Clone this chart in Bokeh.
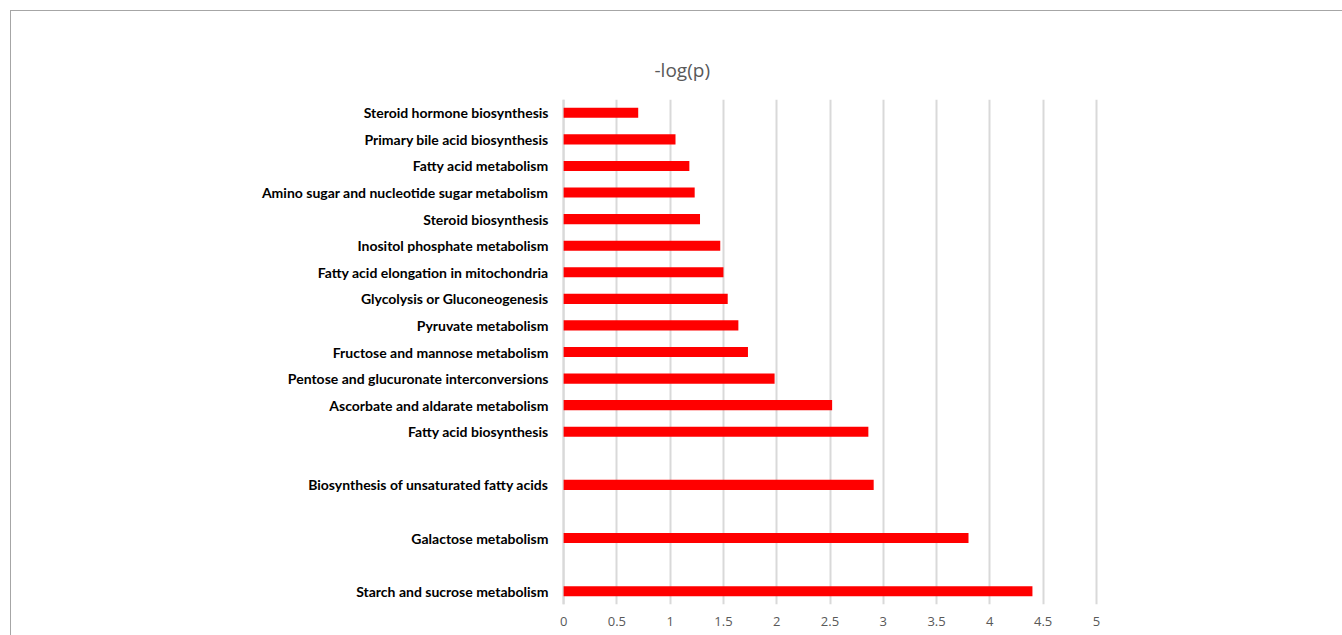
from bokeh.plotting import figure
from bokeh.models import FixedTicker, Range1d, Title, ColumnDataSource, Span
from bokeh.embed import file_html
from bokeh.resources import INLINE

# Categories bottom-to-top; empty strings are blank rows in the source table
categories = [
    "Starch and sucrose metabolism",
    "",
    "Galactose metabolism",
    "",
    "Biosynthesis of unsaturated fatty acids",
    "",
    "Fatty acid biosynthesis",
    "Ascorbate and aldarate metabolism",
    "Pentose and glucuronate interconversions",
    "Fructose and mannose metabolism",
    "Pyruvate metabolism",
    "Glycolysis or Gluconeogenesis",
    "Fatty acid elongation in mitochondria",
    "Inositol phosphate metabolism",
    "Steroid biosynthesis",
    "Amino sugar and nucleotide sugar metabolism",
    "Fatty acid metabolism",
    "Primary bile acid biosynthesis",
    "Steroid hormone biosynthesis",
]
neg_log_p = [4.40, None, 3.80, None, 2.91, None, 2.86, 2.52, 1.98, 1.73, 1.64,
             1.54, 1.50, 1.47, 1.28, 1.23, 1.18, 1.05, 0.70]
x_ticks = [0, 0.5, 1, 1.5, 2, 2.5, 3, 3.5, 4, 4.5, 5]

ys = [i for i, v in enumerate(neg_log_p) if v is not None]
vals = [v for v in neg_log_p if v is not None]
src = ColumnDataSource(dict(y=ys, right=vals))

p = figure(width=1332, height=625, output_backend="svg", toolbar_location=None,
           x_range=Range1d(-0.02, 5.02), y_range=Range1d(-0.5, len(categories) - 0.5),
           min_border_left=550, min_border_right=245, min_border_top=88,
           min_border_bottom=32, margin=(10, 0, 0, 10))
p.styles = {"border-top": "1px solid #a6a6a6", "border-left": "1px solid #a6a6a6"}
p.outline_line_color = None

p.add_layout(Span(location=x_ticks[0], dimension="height", line_color="#d9d9d9",
                  line_width=2, level="underlay"))

p.hbar(y="y", left=0, right="right", height=0.38, source=src,
       fill_color="#ff0000", line_color=None)

p.add_layout(Title(text="-log(p)", text_font="Open Sans", text_font_size="19px",
                   text_font_style="normal", text_color="#595959",
                   align="left", offset=93, standoff=34), "above")

p.xaxis.ticker = FixedTicker(ticks=x_ticks)
p.xaxis.major_label_overrides = {t: (str(int(t)) if float(t).is_integer() else str(t)) for t in x_ticks}
p.xaxis.axis_line_color = None
p.xaxis.major_tick_line_color = None
p.xaxis.minor_tick_line_color = None
p.xaxis.major_label_text_color = "#595959"
p.xaxis.major_label_text_font = "Open Sans"
p.xaxis.major_label_text_font_size = "13px"
p.xaxis.major_label_standoff = 6

p.yaxis.ticker = FixedTicker(ticks=ys)
p.yaxis.major_label_overrides = {i: categories[i] for i in ys}
p.yaxis.axis_line_color = None
p.yaxis.major_tick_line_color = None
p.yaxis.minor_tick_line_color = None
p.yaxis.major_label_text_color = "#000000"
p.yaxis.major_label_text_font = "Lato"
p.yaxis.major_label_text_font_style = "bold"
p.yaxis.major_label_text_font_size = "14px"
p.yaxis.major_label_standoff = 7

p.ygrid.grid_line_color = None
p.xgrid.ticker = FixedTicker(ticks=x_ticks)
p.xgrid.grid_line_color = "#d9d9d9"
p.xgrid.grid_line_width = 2

open("out.html", "w").write(file_html(p, INLINE))
